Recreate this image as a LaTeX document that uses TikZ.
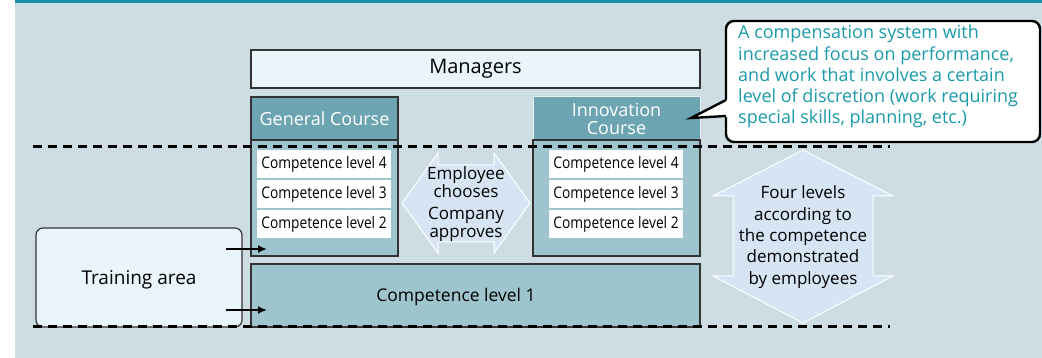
\documentclass[tikz,border=0pt]{standalone}
\usepackage{fontspec}
\setmainfont{Open Sans}
\newfontfamily\condf[FakeStretch=0.86]{Open Sans}
\usetikzlibrary{arrows.meta}
\definecolor{bgc}{HTML}{CDDDE3}
\definecolor{teal}{HTML}{1591A1}
\definecolor{lightbox}{HTML}{EAF5FB}
\definecolor{headc}{HTML}{6CA5B1}
\definecolor{bodyc}{HTML}{9EC5CE}
\definecolor{arrc}{HTML}{D6E4F3}
\definecolor{calltext}{HTML}{1A9AAA}
\definecolor{edge}{HTML}{333333}
\tikzset{
  mainfont/.style={font=\fontsize{17.5}{21}\selectfont},
  plainbox/.style={draw=edge, line width=1.2pt, inner sep=0pt, minimum width=#1},
  lightrect/.style={plainbox=449pt, fill=lightbox, minimum height=38pt, font=\fontsize{20}{24}\selectfont},
  headbox/.style={draw=edge, line width=1.2pt, fill=headc, text=white, inner sep=0pt, minimum width=#1, minimum height=43pt, font=\fontsize{18}{21}\selectfont, align=center},
  bodybox/.style={draw=edge, line width=1.2pt, fill=bodyc, inner sep=0pt, minimum width=#1, minimum height=116pt},
  levelbox/.style={fill=white, inner sep=0pt, minimum width=134pt, minimum height=27.5pt, font=\condf\fontsize{16}{19}\selectfont},
  bigarrow/.style={fill=arrc, draw=white, line width=1pt},
  dline/.style={line width=3pt, dash pattern=on 9pt off 6pt},
  inarrow/.style={line width=2pt, -{Latex[length=9pt,width=8pt]}},
  plaintext/.style={inner sep=0pt, mainfont, align=center},
}
\begin{document}
\begin{tikzpicture}[x=1pt,y=-1pt]
\useasboundingbox (0,0) rectangle (1042,358);
\fill[white] (0,0) rectangle (1042,358);
\fill[bgc] (15,0) rectangle (1042,358);
\fill[teal] (15,0) rectangle (1042,3);

% Managers
\node[lightrect] (mgr) at (475.5,69) {Managers};

% General course
\node[headbox=147pt] (ghead) at (324.5,118.5) {General Course};
\node[bodybox=147pt] (gbody) at (324.5,198) {};
\node[levelbox] (g4) at (324,164) {Competence level 4};
\node[levelbox] (g3) at (324,194) {Competence level 3};
\node[levelbox] (g2) at (324,224) {Competence level 2};

% Innovation course
\node[headbox=167pt, draw=white!85!headc, line width=1pt] (ihead) at (616.5,118.5) {Innovation\\[-3pt]Course};
\node[bodybox=167pt] (ibody) at (616.5,198) {};
\node[levelbox] (i4) at (616,164) {Competence level 4};
\node[levelbox] (i3) at (616,194) {Competence level 3};
\node[levelbox] (i2) at (616,224) {Competence level 2};

% Competence level 1
\node[draw=edge, line width=1.2pt, fill=bodyc, inner sep=0pt, minimum width=449pt, minimum height=63pt] (lvl1) at (475.5,295.5) {};
\node[plaintext] (lvl1t) at (456,297) {Competence level 1};

% Training area
\node[draw=edge, line width=1.2pt, fill=lightbox, rounded corners=7pt, inner sep=0pt, minimum width=206pt, minimum height=99pt] (train) at (139,277.5) {};
\node[plaintext, font=\fontsize{19}{22}\selectfont] (traint) at (139,280) {Training area};

% Arrows from training area
\coordinate (a1s) at (226,249);
\coordinate (a1e) at (267,249);
\coordinate (a2s) at (226,310);
\coordinate (a2e) at (267,310);
\draw[inarrow] (a1s) -- (a1e);
\draw[inarrow] (a2s) -- (a2e);

% Horizontal double arrow
\draw[bigarrow] (402,203) -- (438,153) -- (438,165) -- (494,165) -- (494,153) -- (530,203) -- (494,253) -- (494,242) -- (438,242) -- (438,253) -- cycle;
\node[plaintext, font=\fontsize{17}{18.5}\selectfont] (choose) at (466,204) {Employee\\chooses\\[3pt]Company\\approves};

% Vertical double arrow
\draw[bigarrow] (803,150) -- (893,196) -- (873,196) -- (873,276) -- (893,276) -- (803,323) -- (713,276) -- (733,276) -- (733,196) -- (713,196) -- cycle;
\node[plaintext, font=\fontsize{17}{21.3}\selectfont] (four) at (803,237) {Four levels\\according to\\the competence\\demonstrated\\by employees};

% Dashed lines
\coordinate (d1l) at (33,147);
\coordinate (d1r) at (890,147);
\coordinate (d2l) at (33,326);
\coordinate (d2r) at (890,326);
\draw[dline] (d1l) -- (d1r);
\draw[dline] (d2l) -- (d2r);

% Callout
\draw[line width=2.4pt, fill=white, rounded corners=8pt] (726,21) rectangle (1040,142);
\coordinate (ptip) at (691,118);
\fill[white] (728.5,99) -- (ptip) -- (728.5,117) -- cycle;
\draw[line width=2.4pt, line join=miter] (726,100) -- (ptip) -- (726,116);
\node[inner sep=0pt, anchor=north west, align=left, text=calltext, font=\fontsize{18}{21.2}\selectfont] (callt) at (738,25) {A compensation system with\\increased focus on performance,\\and work that involves a certain\\level of discretion (work requiring\\special skills, planning, etc.)};
\end{tikzpicture}
\end{document}
